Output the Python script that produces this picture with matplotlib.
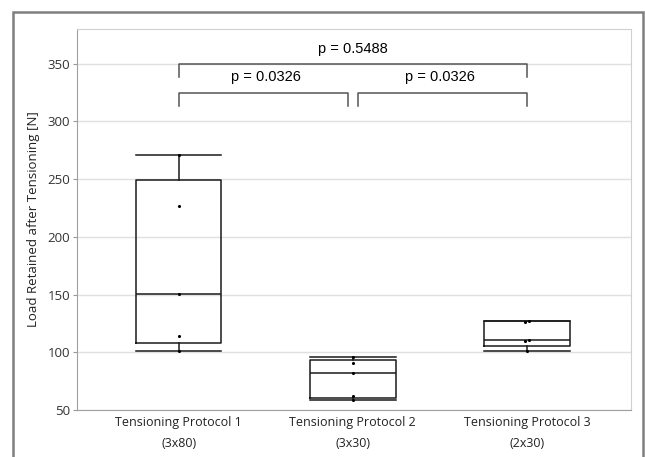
import numpy as np
import matplotlib.pyplot as plt
from matplotlib.patches import Rectangle
from matplotlib import cbook

# data
groups = ['Tensioning Protocol 1\n(3x80)', 'Tensioning Protocol 2\n(3x30)', 'Tensioning Protocol 3\n(2x30)']
p1 = [101, 114.5, 150.6, 227, 271]
p2 = [58.7, 62.1, 81.8, 91, 96.2]
p3 = [101.4, 110, 110.2, 126.5, 127]
data = [p1, p2, p3]

# significance brackets: (group a, group b, p text)
comparisons = [(0, 1, 'p = 0.0326'), (1, 2, 'p = 0.0326'), (0, 2, 'p = 0.5488')]

ylabel = 'Load Retained after Tensioning [N]'
yticks = [50, 100, 150, 200, 250, 300, 350]

fig = plt.figure(figsize=(6.45, 4.57), dpi=100)
ax = fig.add_axes([77 / 645, 1 - 410 / 457, (631 - 77) / 645, (410 - 29) / 457])

# outer frame around the whole chart
fig.patches.append(Rectangle((13 / 645, -0.05), (643 - 13) / 645, 1.05 - 12 / 457,
                             transform=fig.transFigure, fill=False,
                             edgecolor='#7f7f7f', linewidth=1.8))

# box stats with (n+1)p quartiles, like JMP
stats = []
for vals in data:
    s = cbook.boxplot_stats(vals, whis=1.5)[0]
    q1, q3 = np.percentile(vals, [25, 75], method='weibull')
    s['q1'], s['q3'] = q1, q3
    iqr = q3 - q1
    inside = [v for v in vals if q1 - 1.5 * iqr <= v <= q3 + 1.5 * iqr]
    s['whislo'], s['whishi'] = min(inside), max(inside)
    s['fliers'] = []
    stats.append(s)

lp = dict(color='#1a1a1a', linewidth=1.1)
ax.bxp(stats, positions=range(len(data)), widths=0.49, showfliers=False,
       boxprops=lp, whiskerprops=lp, capprops=lp, medianprops=lp,
       capwidths=0.49, manage_ticks=False)

# raw points, nudging near duplicates apart
for i, vals in enumerate(data):
    xs = []
    for j, v in enumerate(vals):
        close = [k for k, w in enumerate(vals) if abs(w - v) < 1.5]
        off = 0.0
        if len(close) > 1:
            off = (close.index(j) - (len(close) - 1) / 2) * 0.025
        xs.append(i + off)
    ax.scatter(xs, vals, s=5, color='black', zorder=3, linewidths=0)

# brackets
levels = {2: 350, 0: 325, 1: 325}
for n, (a, b, txt) in enumerate(comparisons):
    y = levels[n]
    xa, xb = a, b
    if b - a == 1:
        xa = a + (0.0 if a == 0 else 0.03)
        xb = b - (0.03 if a == 0 else 0.0)
    ax.plot([xa, xa, xb, xb], [y - 11.5, y, y, y - 11.5], color='#555555', lw=1.1,
            clip_on=False)
    ax.text((a + b) / 2, y + 7, txt, ha='center', va='bottom',
            fontsize=10.5, family='Liberation Sans', color='black')

ax.set_xlim(-0.583, 2.596)
ax.set_ylim(50, 380)
ax.set_yticks(yticks)
ax.set_xticks(range(len(groups)))
ax.set_xticklabels(groups, fontsize=9, family='Open Sans', color='#222222',
                   linespacing=1.8)
for lab in ax.get_yticklabels():
    lab.set_fontsize(9.5)
    lab.set_family('Open Sans')
    lab.set_color('#333333')
ax.set_ylabel(ylabel, fontsize=9.5, family='Open Sans', color='#222222', labelpad=5)

ax.grid(axis='y', color='#e0e0e0', linewidth=1)
ax.set_axisbelow(True)
ax.tick_params(axis='x', length=0, pad=4)
ax.tick_params(axis='y', length=3, color='#999999', pad=2)
for side in ['top', 'right']:
    ax.spines[side].set_color('#d0d0d0')
for side in ['left', 'bottom']:
    ax.spines[side].set_color('#a0a0a0')

fig.savefig('out.png', dpi=100)
